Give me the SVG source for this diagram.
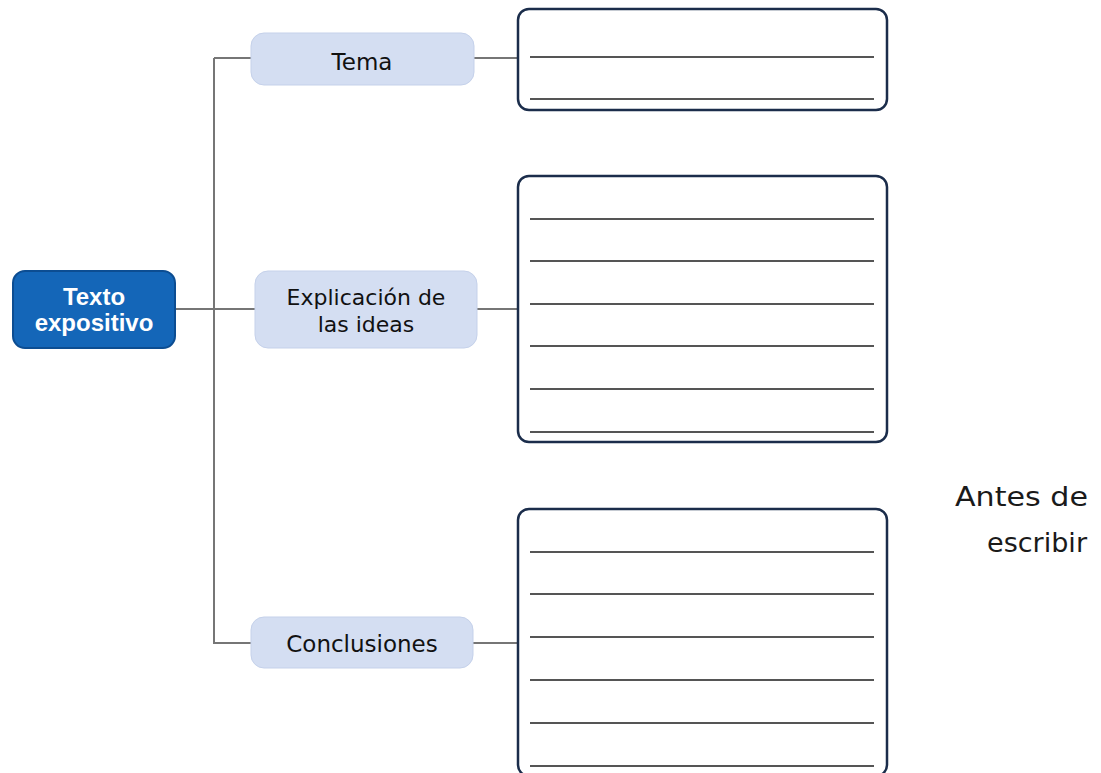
<svg xmlns="http://www.w3.org/2000/svg" width="1101" height="773" viewBox="0 0 1101 773">
<style>
.conn{stroke:#767676;stroke-width:2;fill:none}
.sub{fill:#d4def2;stroke:#c5d1ea;stroke-width:1}
.main{fill:#1466b8;stroke:#0c4d92;stroke-width:2}
.box{fill:#fff;stroke:#1b2d4b;stroke-width:2.5}
.rule{stroke:#555;stroke-width:2.2}
.lbl{font-family:"DejaVu Sans",sans-serif;font-size:22px;fill:#111;text-anchor:middle}
.mlbl{font-family:"Liberation Sans",Arial,sans-serif;font-weight:bold;font-size:24px;fill:#fff;text-anchor:middle}
.side{font-family:"DejaVu Sans",sans-serif;font-size:26px;fill:#1a1a1a;text-anchor:end}
</style>
<rect width="1101" height="773" fill="#fff"/>
<g id="connectors">
<path class="conn" d="M214 58V644"/>
<path class="conn" d="M175 309H255"/>
<path class="conn" d="M214 58H251"/>
<path class="conn" d="M214 643H251"/>
<path class="conn" d="M474 58H518"/>
<path class="conn" d="M477 309H518"/>
<path class="conn" d="M473 643H518"/>
</g>
<g id="main">
<rect class="main" x="13" y="271" width="162" height="77" rx="12"/>
<text class="mlbl" x="94" y="305">Texto</text>
<text class="mlbl" x="94" y="331">expositivo</text>
</g>
<g id="tema">
<rect class="sub" x="251" y="33" width="223" height="52" rx="13"/>
<text class="lbl" x="362" y="70" style="font-size:23px">Tema</text>
</g>
<g id="explicacion">
<rect class="sub" x="255" y="271" width="222" height="77" rx="13"/>
<text class="lbl" x="366" y="305">Explicación de</text>
<text class="lbl" x="366" y="332">las ideas</text>
</g>
<g id="conclusiones">
<rect class="sub" x="251" y="617" width="222" height="51" rx="13"/>
<text class="lbl" x="362" y="652" style="font-size:23px">Conclusiones</text>
</g>
<g id="box-tema">
<rect class="box" x="518" y="9" width="369" height="101" rx="11"/>
<path class="rule" d="M530 57H874M530 99H874"/>
</g>
<g id="box-explicacion">
<rect class="box" x="518" y="176" width="369" height="266" rx="11"/>
<path class="rule" d="M530 219H874M530 261H874M530 304H874M530 346H874M530 389H874M530 432H874"/>
</g>
<g id="box-conclusiones">
<rect class="box" x="518" y="509" width="369" height="267" rx="11"/>
<path class="rule" d="M530 552H874M530 594H874M530 637H874M530 680H874M530 723H874M530 766H874"/>
</g>
<g id="side-note">
<text class="side" x="1088" y="506" textLength="133" lengthAdjust="spacingAndGlyphs">Antes de</text>
<text class="side" x="1087" y="552" textLength="100" lengthAdjust="spacingAndGlyphs">escribir</text>
</g>
</svg>
